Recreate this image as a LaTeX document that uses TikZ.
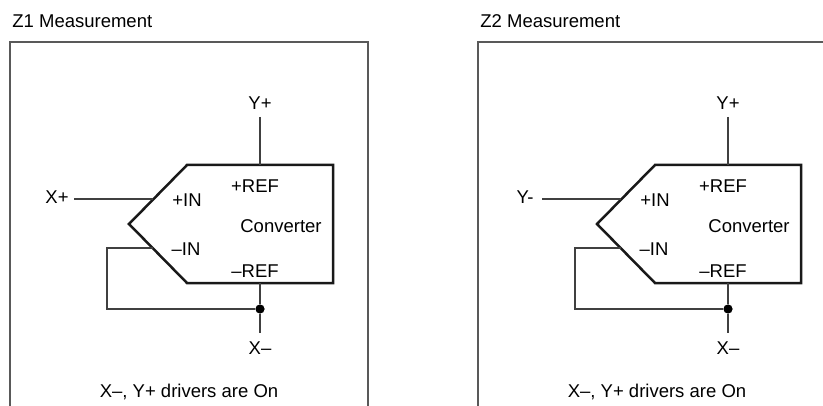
\documentclass[tikz,border=0pt]{standalone}
\usepackage{fontspec}
\setmainfont{Liberation Sans}
\usepackage{tikz}

\tikzset{
	frame/.style={draw=black!65, line width=0.6pt},
	wire/.style={draw=black!75, line width=0.55pt},
	conv/.style={draw=black!90, line width=1.25pt, line join=miter},
	lbl/.style={anchor=base, inner sep=0pt, font=\fontsize{9.25}{11}\selectfont},
	junct/.style={circle, fill=black, inner sep=0pt, minimum size=4.6pt}
}

\begin{document}
\begin{tikzpicture}[x=0.5pt, y=-0.5pt]
		\useasboundingbox (0,0) rectangle (823,406);
		\clip (0,0) rectangle (823,406);

		\foreach \dx/\meas/\inlbl in {0/Z1/X+, 468/Z2/Y-}{
		\begin{scope}[xshift=\dx*0.5pt]
			% Title and open frame.
			\node[lbl, anchor=base west] (title) at (12,28) {\meas{} Measurement};
			\draw[frame] (10,420) -- (10,42) -- (368,42) -- (368,420);

			% Converter outline.
			\coordinate (tl) at (187,165);
			\coordinate (tr) at (333,165);
			\coordinate (br) at (333,283);
			\coordinate (bl) at (187,283);
			\coordinate (tip) at (129,224);
			\draw[conv] (tl) -- (tr) -- (br) -- (bl) -- (tip) -- cycle;

			% Inner labels.
			\node[lbl] (pin)  at (187,206) {+IN};
			\node[lbl] (min)  at (186,255) {–IN};
			\node[lbl] (pref) at (255,192) {+REF};
			\node[lbl] (mref) at (255,277) {–REF};
			\node[lbl] (name) at (281,233) {Converter};

			% Outer labels.
			\node[lbl] (yp)  at (260,110) {Y+};
			\node[lbl] (xm)  at (260,354) {X–};
			\node[lbl] (inp) at (57,204) {\inlbl};
			\node[lbl] (note) at (189,397) {X–, Y+ drivers are On};

			% Wiring.
			\coordinate (ytop) at (260,117);
			\coordinate (ybot) at (260,165);
			\coordinate (inA) at (74,199);
			\coordinate (inB) at (153,199);
			\coordinate (fbA) at (153,248);
			\coordinate (fbB) at (107,248);
			\coordinate (fbC) at (107,309);
			\coordinate (refm) at (260,283);
			\coordinate (xend) at (260,333);
			\node[junct] (dot) at (260,309) {};

			\draw[wire] (ytop) -- (ybot);
			\draw[wire] (inA) -- (inB);
			\draw[wire] (fbA) -- (fbB) -- (fbC) -- (dot);
			\draw[wire] (refm) -- (dot) -- (xend);
		\end{scope}
		}
\end{tikzpicture}
\end{document}
